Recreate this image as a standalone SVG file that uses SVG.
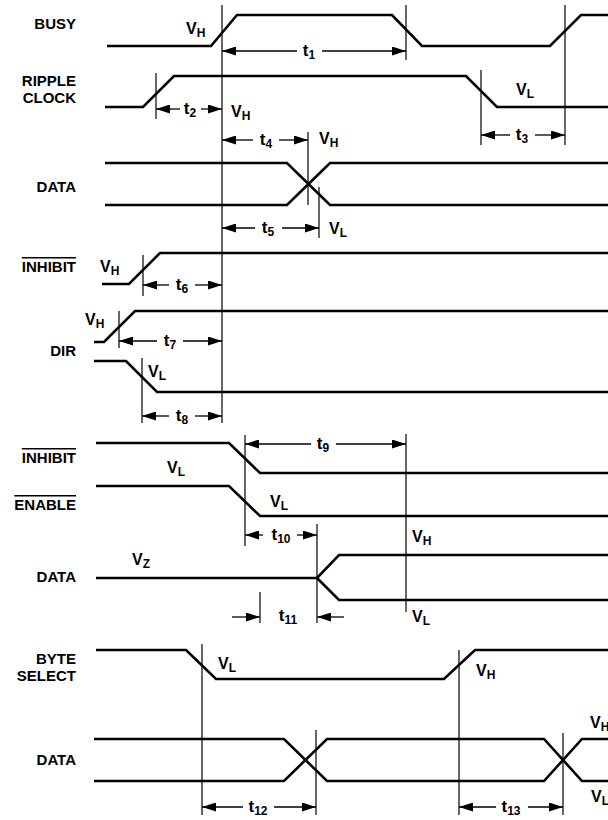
<svg xmlns="http://www.w3.org/2000/svg" width="608" height="820" viewBox="0 0 608 820">
<style>
.sig{fill:none;stroke:#000;stroke-width:2.6;stroke-linejoin:miter}
.tick{fill:none;stroke:#000;stroke-width:1.2}
.dim{fill:none;stroke:#000;stroke-width:1.3;marker-end:url(#ah)}
.name{font-family:"Liberation Sans",Arial,sans-serif;font-weight:bold;font-size:15px;text-anchor:end;fill:#000}
.lbl{font-family:"Liberation Sans",Arial,sans-serif;font-weight:bold;font-size:16px;fill:#000}
.tl{font-family:"Liberation Sans",Arial,sans-serif;font-weight:bold;font-size:17px;fill:#000;text-anchor:middle}
.sub{font-size:12px}
.ov{text-decoration:overline}
</style>
<defs>
<marker id="ah" markerUnits="userSpaceOnUse" markerWidth="14" markerHeight="9" refX="14" refY="4.5" orient="auto">
<path d="M0,0 L14,4.5 L0,9 z" fill="#000"/>
</marker>
</defs>
<rect width="608" height="820" fill="#fff"/>

<g id="busy">
<text class="name" x="76" y="29">BUSY</text>
<polyline class="sig" points="107,46 211,46 237,15 392,15 422,46 550,46 581,15 608,15"/>
<text class="lbl" x="186" y="34">V<tspan class="sub" dy="3">H</tspan></text>
</g>

<g id="ripple-clock">
<text class="name" x="76" y="86">RIPPLE</text>
<text class="name" x="76" y="103">CLOCK</text>
<polyline class="sig" points="105,107 143,107 174,76 466,76 497,107 608,107"/>
<text class="lbl" x="231" y="117">V<tspan class="sub" dy="3">H</tspan></text>
<text class="lbl" x="516" y="95">V<tspan class="sub" dy="3">L</tspan></text>
</g>

<g id="data1">
<text class="name" x="76" y="192">DATA</text>
<polyline class="sig" points="105,163 287,163 330,205 608,205"/>
<polyline class="sig" points="105,205 287,205 330,163 608,163"/>
<text class="lbl" x="319" y="144">V<tspan class="sub" dy="3">H</tspan></text>
<text class="lbl" x="329" y="234">V<tspan class="sub" dy="3">L</tspan></text>
</g>

<g id="inhibit1">
<text class="name ov" x="76" y="272">INHIBIT</text>
<polyline class="sig" points="102,284 129,284 160,253 608,253"/>
<text class="lbl" x="100" y="272">V<tspan class="sub" dy="3">H</tspan></text>
</g>

<g id="dir">
<text class="name" x="76" y="356">DIR</text>
<polyline class="sig" points="94,342 104,342 135,311 608,311"/>
<polyline class="sig" points="94,361 126,361 157,392 608,392"/>
<text class="lbl" x="85" y="325">V<tspan class="sub" dy="3">H</tspan></text>
<text class="lbl" x="148" y="377">V<tspan class="sub" dy="3">L</tspan></text>
</g>

<g id="inhibit2">
<text class="name ov" x="76" y="463">INHIBIT</text>
<polyline class="sig" points="96,443 229,443 260,473 608,473"/>
<text class="lbl" x="167" y="473">V<tspan class="sub" dy="3">L</tspan></text>
</g>

<g id="enable">
<text class="name ov" x="76" y="510">ENABLE</text>
<polyline class="sig" points="96,486 229,486 260,516 608,516"/>
<text class="lbl" x="270" y="507">V<tspan class="sub" dy="3">L</tspan></text>
</g>

<g id="data2">
<text class="name" x="76" y="582">DATA</text>
<polyline class="sig" points="96,578 317,578 339,555 608,555"/>
<polyline class="sig" points="317,578 339,600 608,600"/>
<text class="lbl" x="132" y="565">V<tspan class="sub" dy="3">Z</tspan></text>
<text class="lbl" x="412" y="542">V<tspan class="sub" dy="3">H</tspan></text>
<text class="lbl" x="412" y="622">V<tspan class="sub" dy="3">L</tspan></text>
</g>

<g id="byte-select">
<text class="name" x="76" y="664">BYTE</text>
<text class="name" x="76" y="681">SELECT</text>
<polyline class="sig" points="96,650 186,650 216,679 444,679 475,650 608,650"/>
<text class="lbl" x="218" y="669">V<tspan class="sub" dy="3">L</tspan></text>
<text class="lbl" x="476" y="676">V<tspan class="sub" dy="3">H</tspan></text>
</g>

<g id="data3">
<text class="name" x="76" y="765">DATA</text>
<polyline class="sig" points="94,739 284,739 327,781 544,781 582,739 608,739"/>
<polyline class="sig" points="94,781 284,781 327,739 544,739 582,781 608,781"/>
<text class="lbl" x="590" y="728">V<tspan class="sub" dy="3">H</tspan></text>
<text class="lbl" x="591" y="802">V<tspan class="sub" dy="3">L</tspan></text>
</g>

<g id="connectors">
<line class="tick" x1="222" y1="5" x2="222" y2="423"/>
<line class="tick" x1="406" y1="5" x2="406" y2="60"/>
<line class="tick" x1="565" y1="5" x2="565" y2="145"/>
<line class="tick" x1="156" y1="73" x2="156" y2="119"/>
<line class="tick" x1="481" y1="70" x2="481" y2="145"/>
<line class="tick" x1="308" y1="132" x2="308" y2="205"/>
<line class="tick" x1="319" y1="187" x2="319" y2="238"/>
<line class="tick" x1="143" y1="255" x2="143" y2="296"/>
<line class="tick" x1="119" y1="311" x2="119" y2="348"/>
<line class="tick" x1="142" y1="358" x2="142" y2="423"/>
<line class="tick" x1="245" y1="435" x2="245" y2="546"/>
<line class="tick" x1="406" y1="434" x2="406" y2="612"/>
<line class="tick" x1="317" y1="524" x2="317" y2="623"/>
<line class="tick" x1="260" y1="592" x2="260" y2="623"/>
<line class="tick" x1="202" y1="644" x2="202" y2="815"/>
<line class="tick" x1="459" y1="650" x2="459" y2="815"/>
<line class="tick" x1="316" y1="730" x2="316" y2="815"/>
<line class="tick" x1="563" y1="733" x2="563" y2="815"/>

<line class="dim" x1="297" y1="51" x2="222" y2="51"/>
<line class="dim" x1="322" y1="51" x2="406" y2="51"/>
<text class="tl" x="309" y="56">t<tspan class="sub" dy="3">1</tspan></text>

<line class="dim" x1="180" y1="109" x2="156" y2="109"/>
<line class="dim" x1="201" y1="109" x2="222" y2="109"/>
<text class="tl" x="190" y="114">t<tspan class="sub" dy="3">2</tspan></text>

<line class="dim" x1="510" y1="135" x2="481" y2="135"/>
<line class="dim" x1="535" y1="135" x2="565" y2="135"/>
<text class="tl" x="522" y="140">t<tspan class="sub" dy="3">3</tspan></text>

<line class="dim" x1="253" y1="140" x2="222" y2="140"/>
<line class="dim" x1="279" y1="140" x2="308" y2="140"/>
<text class="tl" x="266" y="145">t<tspan class="sub" dy="3">4</tspan></text>

<line class="dim" x1="255" y1="228" x2="222" y2="228"/>
<line class="dim" x1="282" y1="228" x2="319" y2="228"/>
<text class="tl" x="268" y="233">t<tspan class="sub" dy="3">5</tspan></text>

<line class="dim" x1="169" y1="285" x2="143" y2="285"/>
<line class="dim" x1="195" y1="285" x2="222" y2="285"/>
<text class="tl" x="182" y="290">t<tspan class="sub" dy="3">6</tspan></text>

<line class="dim" x1="157" y1="341" x2="119" y2="341"/>
<line class="dim" x1="183" y1="341" x2="222" y2="341"/>
<text class="tl" x="170" y="346">t<tspan class="sub" dy="3">7</tspan></text>

<line class="dim" x1="169" y1="416" x2="142" y2="416"/>
<line class="dim" x1="195" y1="416" x2="222" y2="416"/>
<text class="tl" x="182" y="421">t<tspan class="sub" dy="3">8</tspan></text>

<line class="dim" x1="311" y1="444" x2="245" y2="444"/>
<line class="dim" x1="336" y1="444" x2="406" y2="444"/>
<text class="tl" x="323" y="449">t<tspan class="sub" dy="3">9</tspan></text>

<line class="dim" x1="263" y1="535" x2="245" y2="535"/>
<line class="dim" x1="297" y1="535" x2="317" y2="535"/>
<text class="tl" x="281" y="540">t<tspan class="sub" dy="3">10</tspan></text>

<line class="dim" x1="232" y1="617" x2="260" y2="617"/>
<line class="dim" x1="344" y1="617" x2="317" y2="617"/>
<text class="tl" x="288" y="621">t<tspan class="sub" dy="3">11</tspan></text>

<line class="dim" x1="243" y1="807" x2="202" y2="807"/>
<line class="dim" x1="274" y1="807" x2="316" y2="807"/>
<text class="tl" x="258" y="812">t<tspan class="sub" dy="3">12</tspan></text>

<line class="dim" x1="496" y1="807" x2="459" y2="807"/>
<line class="dim" x1="528" y1="807" x2="563" y2="807"/>
<text class="tl" x="511" y="812">t<tspan class="sub" dy="3">13</tspan></text>
</g>
</svg>
